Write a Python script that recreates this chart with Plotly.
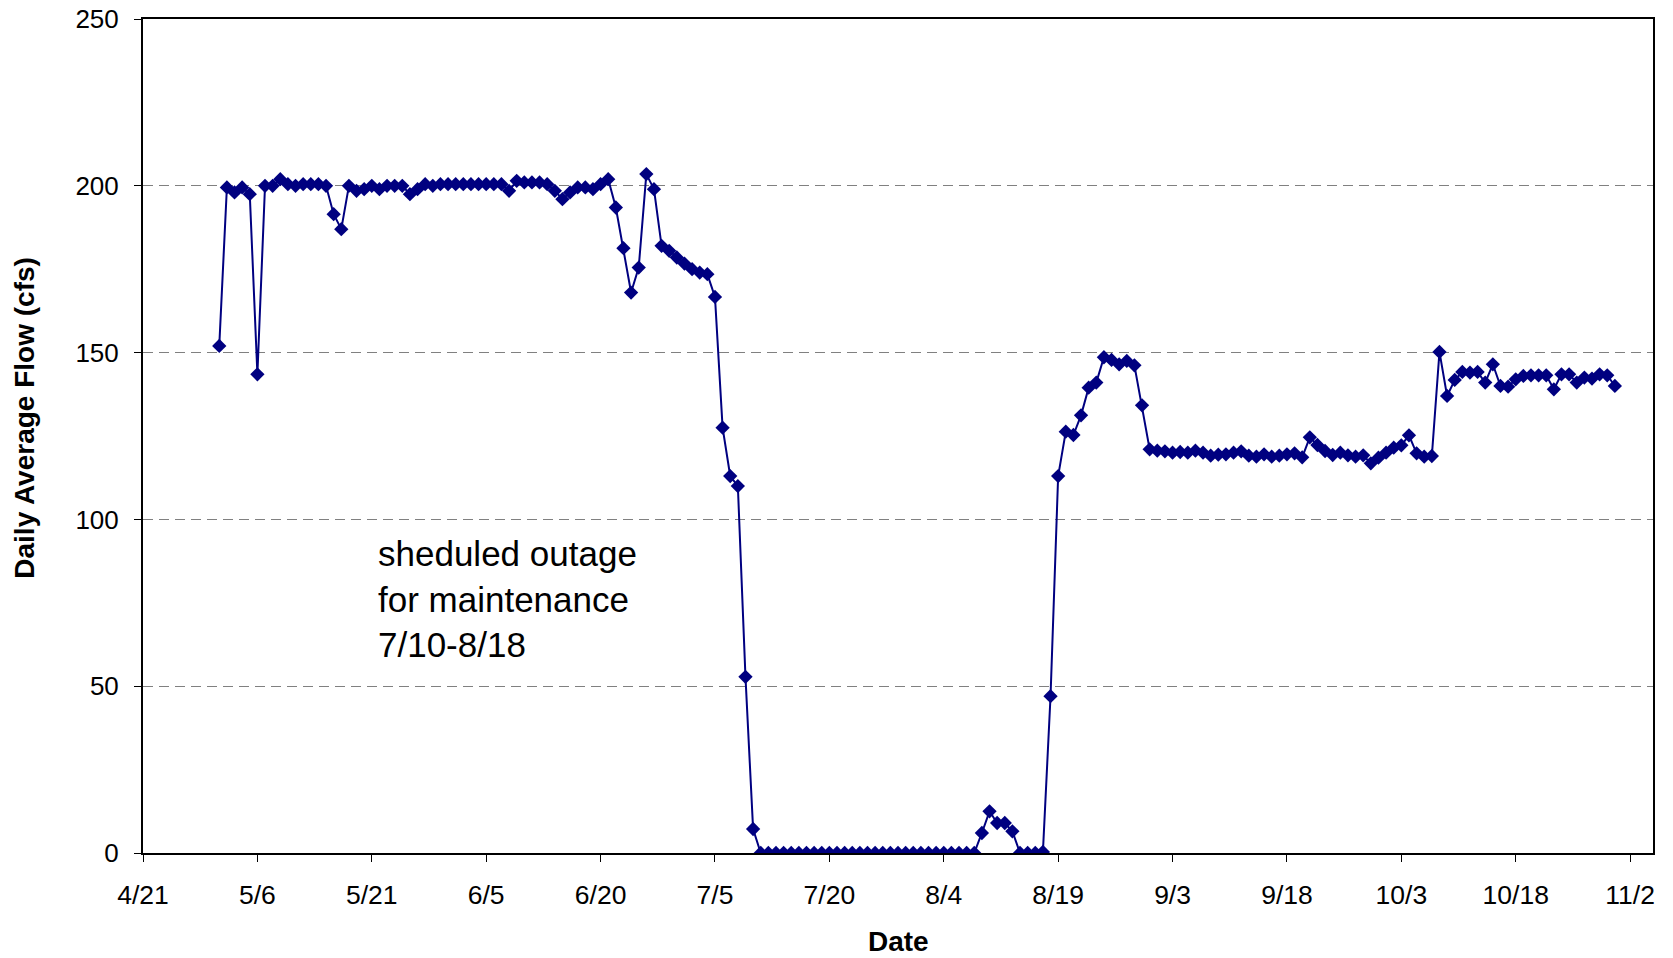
import pandas as pd
import plotly.graph_objects as go

# Daily average flow (cfs), one list per month, 2003
flow_may = [152, 199.5, 198, 199.5, 197.5, 143.5, 200, 200, 202, 200.5, 200, 200.5, 200.5, 200.5, 200,
            191.5, 187, 200, 198.5, 199, 200, 199, 200, 200, 200, 197.5, 199, 200.5, 200, 200.5, 200.5]
flow_jun = [200.5, 200.5, 200.5, 200.5, 200.5, 200.5, 200.5, 198.5, 201.5, 201, 201, 201, 200.5, 198.5, 196,
            198, 199.5, 199.5, 199, 200.5, 202, 193.5, 181.3, 168, 175.5, 203.5, 199, 182, 180.5, 178.5]
flow_jul = [176.7, 175, 174, 173.5, 166.7, 127.5, 113, 110, 52.8, 7.2,
            0, 0, 0, 0, 0, 0, 0, 0, 0, 0, 0, 0, 0, 0, 0, 0, 0, 0, 0, 0, 0]
flow_aug = [0, 0, 0, 0, 0, 0, 0, 0, 6, 12.5, 9, 9, 6.5, 0, 0, 0, 0.3, 47, 113, 126.3, 125.3, 131.2,
            139.5, 141, 148.6, 147.8, 146.5, 147.5, 146.2, 134.2, 121]
flow_sep = [120.6, 120.4, 120, 120.2, 120, 120.6, 120, 119.1, 119.4, 119.5, 120, 120.4, 119.1, 118.8, 119.5,
            118.8, 119.1, 119.5, 119.8, 118.6, 124.6, 122.3, 120.5, 119.3, 120, 119.2, 118.8, 119.2, 116.8, 118.5]
flow_oct = [120, 121.5, 122.2, 125.2, 119.8, 118.8, 119, 150.2, 137, 141.8, 144.2, 144, 144.2, 141, 146.5,
            140, 139.8, 142, 143, 143.2, 143.2, 143.2, 139, 143.5, 143.5, 141, 142.5, 142.2, 143.5, 143.2, 140]

start_date = "2003-05-01"
x_range = ["2003-04-21", "2003-11-05"]
tick_dates = pd.date_range("2003-04-21", periods=14, freq="15D")
tick_labels = [f"{d.month}/{d.day}" for d in tick_dates]
y_ticks = [0, 50, 100, 150, 200, 250]
note_text = "sheduled outage<br>for maintenance<br>7/10-8/18"
x_title = "Date"
y_title = "Daily Average Flow (cfs)"

flow = flow_may + flow_jun + flow_jul + flow_aug + flow_sep + flow_oct
dates = pd.date_range(start_date, periods=len(flow), freq="D")

fig = go.Figure()
fig.add_trace(go.Scatter(
    x=dates, y=flow, mode="lines+markers",
    line=dict(color="#000080", width=2),
    marker=dict(symbol="diamond", size=11, color="#000080"),
    showlegend=False,
))

font_family = "Liberation Sans, Arial, sans-serif"

fig.add_annotation(
    x="2003-05-21 12:00", y=76, xref="x", yref="y", text=note_text, showarrow=False,
    xanchor="left", yanchor="middle", align="left",
    font=dict(family=font_family, size=35, color="black"),
)
fig.add_annotation(
    x=0.5, y=-0.106, xref="paper", yref="paper", text=f"<b>{x_title}</b>", showarrow=False,
    xanchor="center", yanchor="middle",
    font=dict(family=font_family, size=28, color="black"),
)
fig.add_annotation(
    x=-0.0781, y=0.522, xref="paper", yref="paper", text=f"<b>{y_title}</b>", showarrow=False,
    xanchor="center", yanchor="middle", textangle=-90,
    font=dict(family=font_family, size=28, color="black"),
)

fig.update_layout(
    width=1673, height=958,
    margin=dict(l=143, r=20, t=19, b=105, autoexpand=False),
    paper_bgcolor="white", plot_bgcolor="white",
    font=dict(family=font_family, color="black"),
)
fig.update_xaxes(
    range=x_range, tickvals=tick_dates, ticktext=tick_labels,
    ticks="outside", ticklen=7, tickcolor="black", tickwidth=1,
    showline=True, linecolor="black", linewidth=2, mirror=True,
    showgrid=False, zeroline=False, ticklabelstandoff=10,
    ticklabeloverflow="allow",
    tickfont=dict(size=26.5, family=font_family),
    automargin=False,
)
fig.update_yaxes(
    range=[0, 250], tickvals=y_ticks,
    ticks="outside", ticklen=7, tickcolor="black", tickwidth=1,
    showline=True, linecolor="black", linewidth=2, mirror=True,
    showgrid=True, gridcolor="#808080", gridwidth=1, griddash="10px,6px",
    zeroline=False, ticklabelstandoff=10,
    ticklabeloverflow="allow",
    tickfont=dict(size=26, family=font_family),
    automargin=False,
)

fig.write_html("out.html", config={"displayModeBar": False},
               post_script="document.body.style.margin='0';")
